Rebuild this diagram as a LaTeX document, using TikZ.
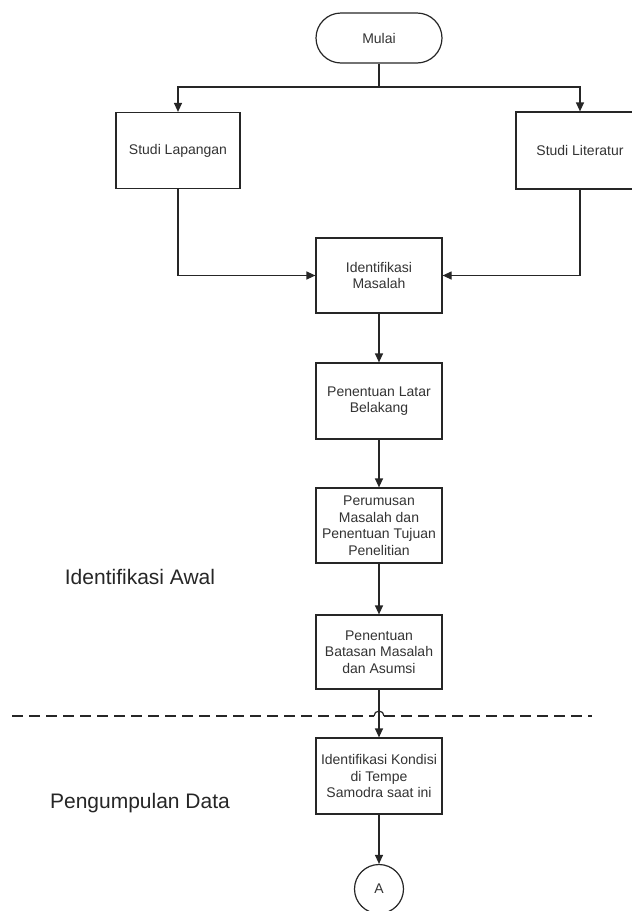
\documentclass[tikz,border=0pt]{standalone}
\usepackage{fontspec}
\setmainfont{Liberation Sans}
\usetikzlibrary{arrows.meta}
\begin{document}
\begin{tikzpicture}[x=1pt,y=-1pt,
  box/.style={draw=black!85, line width=1.2pt, minimum width=126pt, minimum height=75pt,
     align=center, font=\fontsize{14}{16.5}\selectfont, text=black!80, inner sep=2pt},
  term/.style={box, rounded corners=25pt, minimum height=50pt},
  conn/.style={draw=black!85, line width=1.2pt},
  arr/.style={conn, -{Triangle[width=8pt,length=9pt]}},
  phase/.style={font=\fontsize{21}{24}\selectfont, text=black!85}]
\useasboundingbox (0,0) rectangle (632,911);
\node[term] (mulai) at (379,38) {Mulai};
\node[box, minimum width=124pt, minimum height=76pt] (lap) at (178,150.5) {Studi Lapangan};
\node[box, minimum width=128pt, minimum height=77pt] (lit) at (580,150.5) {Studi Literatur};
\node[box] (idm) at (379,275.5) {Identifikasi\\Masalah};
\node[box, minimum height=76pt] (latar) at (379,401) {Penentuan Latar\\Belakang};
\node[box] (perum) at (379,525.5) {Perumusan\\Masalah dan\\Penentuan Tujuan\\Penelitian};
\node[box, minimum height=74pt] (batas) at (379,652) {Penentuan\\Batasan Masalah\\dan Asumsi};
\node[box, minimum height=76pt] (kond) at (379,776) {Identifikasi Kondisi\\di Tempe\\Samodra saat ini};
\node[draw=black!85, line width=1.2pt, circle, minimum size=49pt, inner sep=0pt,
      font=\fontsize{14}{16}\selectfont, text=black!80] (A) at (379,889) {A};
\node[phase] (awal) at (140,577) {Identifikasi Awal};
\node[phase] (kumpul) at (140,803) {Pengumpulan Data};
\coordinate (j) at (379,87);
\draw[conn] (mulai.south) -- (j);
\draw[arr] (j) -| (lap.north);
\draw[arr] (j) -| (lit.north);
\draw[arr] (lap.south) |- (idm.west);
\draw[arr] (lit.south) |- (idm.east);
\draw[arr] (idm) -- (latar);
\draw[arr] (latar) -- (perum);
\draw[arr] (perum) -- (batas);
\draw[arr] (batas) -- (kond);
\draw[arr] (kond) -- (A);
\coordinate (d1) at (12,716);
\coordinate (d2) at (374,716);
\coordinate (d3) at (384,716);
\coordinate (d4) at (592,716);
\draw[draw=black!85, line width=1.2pt, dash pattern=on 11pt off 6pt] (d1) -- (d2);
\draw[draw=black!85, line width=1.2pt] (d2) arc[start angle=180, end angle=0, radius=5pt];
\draw[draw=black!85, line width=1.2pt, dash pattern=on 11pt off 6pt] (d3) -- (d4);
\end{tikzpicture}
\end{document}
